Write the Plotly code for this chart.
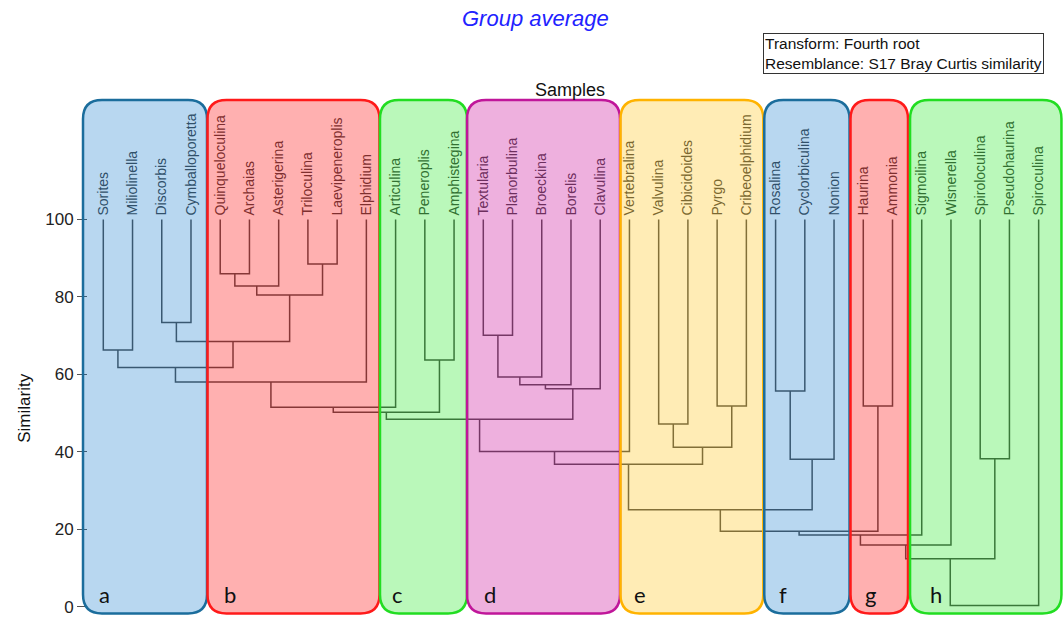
import plotly.graph_objects as go

# ---- data -------------------------------------------------------------
leaves = ["Sorites", "Miliolinella", "Discorbis", "Cymballoporetta",
          "Quinqueloculina", "Archaias", "Asterigerina", "Triloculina",
          "Laevipeneroplis", "Elphidium", "Articulina", "Peneroplis",
          "Amphistegina", "Textularia", "Planorbulina", "Broeckina",
          "Borelis", "Clavulina", "Vertebralina", "Valvulina",
          "Cibicidoides", "Pyrgo", "Cribeoelphidium", "Rosalina",
          "Cyclorbiculina", "Nonion", "Haurina", "Ammonia", "Sigmoilina",
          "Wisnerella", "Spiroloculina", "Pseudohaurina", "Spiroculina"]

# Linkage steps: ids 0..32 are the leaves, step k creates cluster 33 + k
merge_left = [7, 4, 34, 35, 2, 13, 37, 0, 11, 40, 38, 42, 43, 45, 23, 21,
              26, 44, 50, 51, 19, 53, 52, 30, 47, 55, 58, 59, 60, 61, 62, 63]
merge_right = [8, 5, 6, 33, 3, 14, 36, 1, 12, 39, 15, 9, 16, 17, 24, 22,
               27, 10, 41, 46, 20, 48, 18, 31, 25, 54, 57, 49, 28, 29, 56, 32]
merge_similarity = [88.5, 86.0, 82.8, 80.5, 73.4, 70.1, 68.5, 66.3, 63.7,
                    61.8, 59.3, 58.0, 57.3, 56.3, 55.7, 51.8, 51.8, 51.5,
                    50.2, 48.4, 47.2, 41.2, 40.1, 38.2, 38.1, 36.8, 25.0,
                    19.5, 18.5, 15.9, 12.4, 0.3]

group_letters = ["a", "b", "c", "d", "e", "f", "g", "h"]
y_ticks = [0, 20, 40, 60, 80, 100]

# ---- page geometry ----------------------------------------------------
W, H = 1063, 617
M = dict(l=78, r=0, t=95, b=0)
LEAF0_PX, LEAF_STEP_PX = 103.3, 29.23      # horizontal scale
SIM0_PX, SIM_UNIT_PX = 608.6, 3.886        # vertical scale


def paper_x(px):
    return (px - M["l"]) / (W - M["l"] - M["r"])


def paper_y(py):
    return (H - M["b"] - py) / (H - M["t"] - M["b"])


x_range = [(M["l"] - LEAF0_PX) / LEAF_STEP_PX, (W - M["r"] - LEAF0_PX) / LEAF_STEP_PX]
y_range = [(SIM0_PX - (H - M["b"])) / SIM_UNIT_PX, (SIM0_PX - M["t"]) / SIM_UNIT_PX]

# ---- dendrogram segments ---------------------------------------------
n = len(leaves)
xpos = {i: float(i) for i in range(n)}
hpos = {i: 100.0 for i in range(n)}
seg_x, seg_y = [], []
for k, (l, r, s) in enumerate(zip(merge_left, merge_right, merge_similarity)):
    seg_x += [xpos[l], xpos[l], xpos[r], xpos[r], None]
    seg_y += [hpos[l], s, s, hpos[r], None]
    xpos[n + k] = (xpos[l] + xpos[r]) / 2
    hpos[n + k] = s

fig = go.Figure(go.Scatter(
    x=seg_x, y=seg_y, mode="lines",
    line=dict(color="#505050", width=1.5),
    hoverinfo="skip", showlegend=False,
))

# ---- rounded group boxes (translucent, drawn over the tree) ----------
box_span = [(-0.694, 3.548), (3.565, 9.449), (9.466, 12.443), (12.443, 17.677),
            (17.694, 22.58), (22.613, 25.53), (25.563, 27.53), (27.6, 32.78)]
box_fill = ["rgba(0,110,200,0.28)", "rgba(255,0,0,0.31)", "rgba(0,230,0,0.27)",
            "rgba(200,0,150,0.31)", "rgba(255,190,0,0.29)", "rgba(0,110,200,0.28)",
            "rgba(255,0,0,0.31)", "rgba(0,230,0,0.27)"]
box_edge = ["#1b6d9c", "#ff1a1a", "#22dd22", "#c0169a", "#ffb300",
            "#1b6d9c", "#ff1a1a", "#22dd22"]
letter_x = [-0.226, 4.05, 9.81, 12.95, 18.08, 23.04, 26.0, 28.22]
box_top, box_bottom = (SIM0_PX - 100) / SIM_UNIT_PX, (SIM0_PX - 615.5) / SIM_UNIT_PX
rx, ry = 19 / LEAF_STEP_PX, 19 / SIM_UNIT_PX


def rounded_rect(x0, x1, y0, y1):
    return (f"M {x0 + rx},{y1} L {x1 - rx},{y1} Q {x1},{y1} {x1},{y1 - ry} "
            f"L {x1},{y0 + ry} Q {x1},{y0} {x1 - rx},{y0} "
            f"L {x0 + rx},{y0} Q {x0},{y0} {x0},{y0 + ry} "
            f"L {x0},{y1 - ry} Q {x0},{y1} {x0 + rx},{y1} Z")


for (x0, x1), fc, ec in zip(box_span, box_fill, box_edge):
    fig.add_shape(type="path", path=rounded_rect(x0, x1, box_bottom, box_top),
                  xref="x", yref="y", fillcolor=fc,
                  line=dict(color=ec, width=2.5), layer="above")

letter_y = (SIM0_PX - 596) / SIM_UNIT_PX
for lx, letter in zip(letter_x, group_letters):
    fig.add_annotation(x=lx, y=letter_y, xref="x", yref="y", text=letter,
                       showarrow=False, xanchor="left", yanchor="middle",
                       font=dict(family="Lato", size=22, color="#111111"))

# ---- titles and info box ---------------------------------------------
fig.add_annotation(x=paper_x(535), y=paper_y(18), xref="paper", yref="paper",
                   xanchor="center", yanchor="middle",
                   text="Group average", showarrow=False,
                   font=dict(family="Liberation Sans", size=22, color="#2222ff",
                             style="italic"))
fig.add_annotation(x=paper_x(570), y=paper_y(90), xref="paper", yref="paper",
                   xanchor="center", yanchor="middle",
                   text="Samples", showarrow=False,
                   font=dict(family="Liberation Sans", size=18, color="#111111"))
fig.add_annotation(x=paper_x(25), y=paper_y(410), xref="paper", yref="paper",
                   xanchor="center", yanchor="middle",
                   text="Similarity", showarrow=False, textangle=-90,
                   font=dict(family="Liberation Sans", size=17, color="#111111"))
fig.add_annotation(x=paper_x(763), y=paper_y(33), xref="paper", yref="paper",
                   xanchor="left", yanchor="top", align="left",
                   text="Transform: Fourth root<br>Resemblance: S17 Bray Curtis similarity",
                   showarrow=False, bordercolor="#333333", borderwidth=1,
                   borderpad=1, bgcolor="white",
                   font=dict(family="Liberation Sans", size=15.5, color="#111111"))

label_pos = (100 - y_range[0]) / (y_range[1] - y_range[0])

fig.update_layout(
    width=W, height=H, margin=M,
    paper_bgcolor="white", plot_bgcolor="white",
    xaxis=dict(range=x_range, anchor="free", position=label_pos, side="top",
               tickmode="array", tickvals=list(range(n)), ticktext=leaves,
               tickangle=-90, ticks="", ticklabelstandoff=4,
               showline=False, showgrid=False, zeroline=False,
               tickfont=dict(family="Liberation Sans", size=14, color="#454545")),
    yaxis=dict(range=y_range, anchor="free", position=paper_x(87), side="left",
               tickmode="array", tickvals=y_ticks, ticks="outside", ticklen=10,
               tickcolor="#555555", tickwidth=1.2, ticklabeloverflow="allow",
               showline=False, showgrid=False, zeroline=False,
               tickfont=dict(family="Liberation Sans", size=17, color="#222222")),
)

fig.write_html("out.html")
